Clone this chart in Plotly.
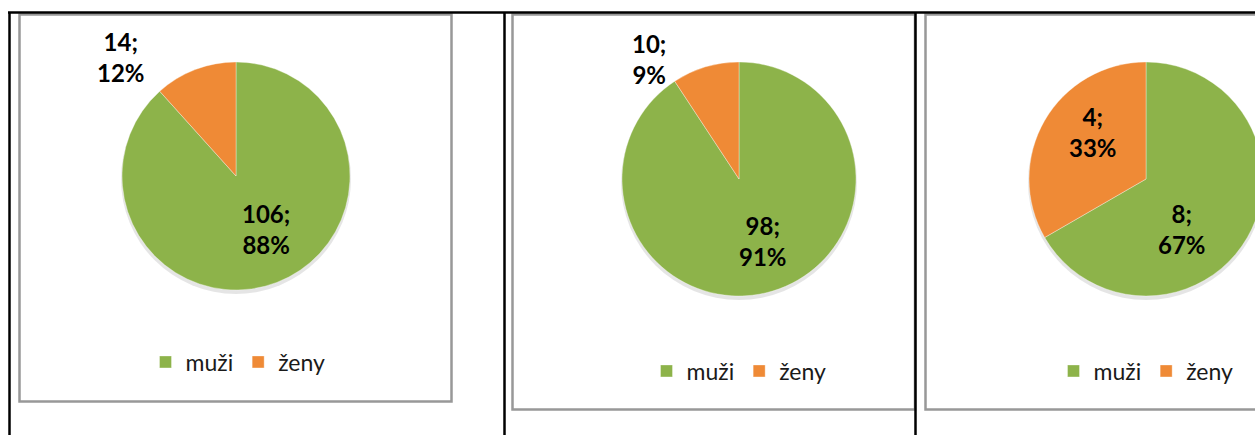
import plotly.graph_objects as go

# ---- data ----
categories = ["muži", "ženy"]
values_1 = [106, 14]
values_2 = [98, 10]
values_3 = [8, 4]

# ---- layout constants (pixels) ----
W, H = 1300, 435
GREEN = "#8db34a"
ORANGE = "#ef8a36"
FONT = "Lato"

def px(x):
    return x / W

def py(y):
    return 1 - y / H

# pie centre x, centre y, radius
pie_geom = [(236, 176, 114), (739, 179, 117), (1146, 179, 117)]
# data-label offsets from the pie centre (muži, ženy)
label_offsets = [[(30, 53), (-115, -119)], [(24, 62), (-90, -120)], [(36, 50), (-53, -47)]]
legend_centres = [(238, 362), (739, 371), (1146, 371)]

fig = go.Figure()
all_values = [values_1, values_2, values_3]
legend_names = ["legend", "legend2", "legend3"]
annotations = []

for i, (vals, (cx, cy, r)) in enumerate(zip(all_values, pie_geom)):
    fig.add_trace(go.Pie(
        labels=categories,
        values=vals,
        sort=False,
        direction="clockwise",
        rotation=0,
        marker=dict(colors=[GREEN, ORANGE], line=dict(color="rgba(255,255,255,0.35)", width=1)),
        textinfo="none",
        domain=dict(x=[px(cx - r), px(cx + r)], y=[py(cy + r), py(cy - r)]),
        legend=legend_names[i],
        legendgroup="g%d" % (i + 1),
        showlegend=True,
        hoverinfo="label+value+percent",
    ))
    total = sum(vals)
    for v, (dx, dy) in zip(vals, label_offsets[i]):
        annotations.append(dict(
            xref="paper", yref="paper",
            x=px(cx + dx), y=py(cy + dy),
            xanchor="center", yanchor="middle",
            text="%d;<br>%d%%" % (v, round(100 * v / total)),
            showarrow=False, align="center",
            font=dict(family=FONT, size=24, color="black", weight="bold"),
        ))

legend_style = dict(
    orientation="h",
    traceorder="normal",
    xanchor="center",
    yanchor="middle",
    font=dict(family=FONT, size=23, color="#1a1a1a"),
    bgcolor="rgba(0,0,0,0)",
    itemclick=False,
    itemdoubleclick=False,
    tracegroupgap=0,
)

shapes = []
# chart frames (grey)
frames = [(19.5, 14.5, 451.5, 401.5), (512.5, 14.5, 915, 409.5), (925.5, 14.5, W + 10, 409.5)]
for (x0, y0, x1, y1) in frames:
    shapes.append(dict(type="rect", xref="paper", yref="paper",
                       x0=px(x0), x1=px(x1), y0=py(y1), y1=py(y0),
                       line=dict(color="#989898", width=2.5), fillcolor="rgba(0,0,0,0)", layer="below"))
# soft shadow under pies
for (cx, cy, r) in pie_geom:
    shapes.append(dict(type="circle", xref="paper", yref="paper",
                       x0=px(cx - r - 1), x1=px(cx + r + 1), y0=py(cy + r + 4), y1=py(cy - r + 2),
                       line=dict(width=0), fillcolor="rgba(0,0,0,0.10)", layer="below"))
# table grid (black)
shapes.append(dict(type="line", xref="paper", yref="paper", x0=px(8), x1=1, y0=py(12.5), y1=py(12.5),
                   line=dict(color="black", width=2.5)))
for x in (9.5, 504.5, 915.5):
    shapes.append(dict(type="line", xref="paper", yref="paper", x0=px(x), x1=px(x), y0=py(12), y1=0,
                       line=dict(color="black", width=2.5)))

layout_kwargs = dict(
    width=W,
    height=H,
    autosize=False,
    margin=dict(l=0, r=0, t=0, b=0),
    paper_bgcolor="white",
    plot_bgcolor="white",
    shapes=shapes,
    annotations=annotations,
)
for name, (lx, ly) in zip(legend_names, legend_centres):
    layout_kwargs[name] = dict(legend_style, x=px(lx), y=py(ly))

fig.update_layout(**layout_kwargs)

fig.write_html(
    "out.html",
    include_plotlyjs=True,
    config={"displayModeBar": False},
    post_script="document.body.style.margin='0';document.body.style.overflow='hidden';",
)
